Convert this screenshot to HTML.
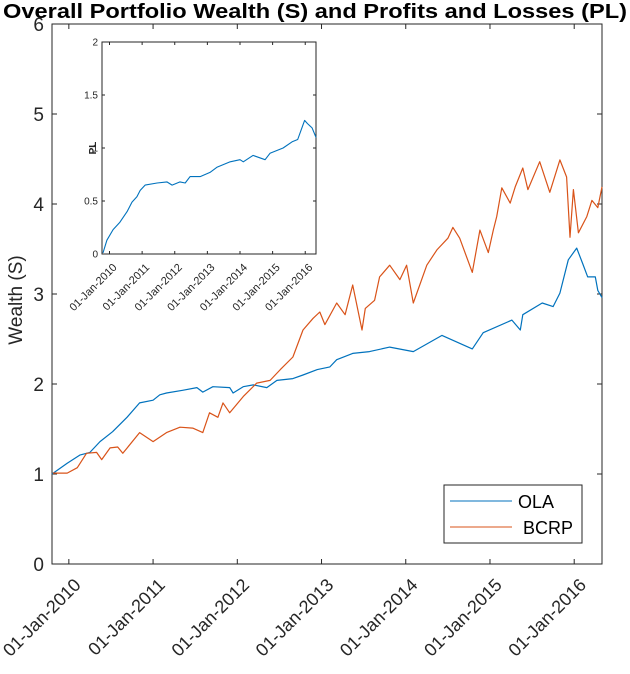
<!DOCTYPE html>
<html><head><meta charset="utf-8"><style>
html,body{margin:0;padding:0;background:#fff;}
svg{display:block;font-family:"Liberation Sans",Arial,sans-serif;}
</style></head><body>
<svg id="chart" width="630" height="674" viewBox="0 0 630 674">
<text x="315" y="18" text-anchor="middle" font-weight="bold" font-size="20.5" textLength="624" lengthAdjust="spacingAndGlyphs">Overall Portfolio Wealth (S) and Profits and Losses (PL)</text>
<text transform="translate(22,300) rotate(-90)" text-anchor="middle" font-size="19" fill="#262626">Wealth (S)</text>
<g id="main"></g>
<g id="inset"></g>
</svg>
<script>
// Main chart data (t = years since 01-Jan-2010)
const olaT = [-0.20,-0.02,0.13,0.25,0.37,0.52,0.69,0.84,1.00,1.08,1.16,1.35,1.52,1.59,1.71,1.91,1.95,2.07,2.19,2.35,2.47,2.66,2.78,2.95,3.10,3.18,3.37,3.57,3.81,4.09,4.43,4.79,4.92,5.26,5.36,5.39,5.62,5.75,5.83,5.93,6.03,6.10,6.16,6.25,6.28,6.33];
const olaV = [1.00,1.12,1.21,1.24,1.36,1.47,1.63,1.79,1.82,1.88,1.90,1.93,1.96,1.91,1.97,1.96,1.90,1.97,1.99,1.96,2.04,2.06,2.10,2.16,2.19,2.27,2.34,2.36,2.41,2.36,2.54,2.39,2.57,2.71,2.60,2.77,2.90,2.86,3.01,3.38,3.51,3.34,3.19,3.19,3.04,2.96];
const bcrpT = [-0.19,-0.02,0.10,0.21,0.33,0.39,0.49,0.58,0.64,0.84,1.00,1.16,1.32,1.47,1.59,1.67,1.77,1.83,1.91,2.07,2.23,2.39,2.51,2.66,2.78,2.90,2.98,3.04,3.18,3.28,3.37,3.48,3.52,3.63,3.69,3.81,3.93,4.01,4.09,4.25,4.37,4.50,4.56,4.64,4.79,4.88,4.98,5.04,5.08,5.14,5.24,5.30,5.39,5.45,5.59,5.71,5.83,5.91,5.95,5.99,6.05,6.15,6.21,6.28,6.33];
const bcrpV = [1.01,1.01,1.07,1.23,1.24,1.16,1.29,1.30,1.23,1.46,1.36,1.46,1.52,1.51,1.46,1.68,1.63,1.79,1.68,1.86,2.01,2.04,2.16,2.30,2.60,2.73,2.80,2.66,2.90,2.77,3.10,2.60,2.84,2.93,3.19,3.32,3.16,3.32,2.90,3.32,3.49,3.62,3.74,3.62,3.24,3.71,3.46,3.71,3.86,4.18,4.01,4.19,4.40,4.16,4.47,4.13,4.49,4.30,3.63,4.16,3.68,3.86,4.04,3.96,4.19];
const yTicks = [0,1,2,3,4,5,6];
const xTickLabels = ["01-Jan-2010","01-Jan-2011","01-Jan-2012","01-Jan-2013","01-Jan-2014","01-Jan-2015","01-Jan-2016"];
const xTickYears = [0,1,2,3,4,5,6];
// Inset PL data
const plT = [-0.20,-0.08,0.11,0.32,0.54,0.69,0.84,0.94,1.09,1.46,1.76,1.92,2.16,2.32,2.47,2.78,3.08,3.30,3.70,4.00,4.10,4.40,4.77,4.92,5.32,5.61,5.77,5.98,6.07,6.21,6.33];
const plV = [0.01,0.13,0.23,0.30,0.40,0.49,0.54,0.60,0.65,0.67,0.68,0.65,0.68,0.67,0.73,0.73,0.77,0.82,0.87,0.89,0.87,0.93,0.89,0.95,1.00,1.06,1.08,1.26,1.23,1.19,1.10];
const plYTicks = [0,0.5,1,1.5,2];
const plYLabels = ["0","0.5","1","1.5","2"];

const NS="http://www.w3.org/2000/svg";
function mk(parent,tag,attrs){const e=document.createElementNS(NS,tag);for(const k in attrs)e.setAttribute(k,attrs[k]);parent.appendChild(e);return e;}

const M={l:52,r:602,t:24,b:564,x0:-0.2,x1:6.33,y0:0,y1:6};
const mx=t=>M.l+(t-M.x0)/(M.x1-M.x0)*(M.r-M.l);
const my=v=>M.b-(v-M.y0)/(M.y1-M.y0)*(M.b-M.t);
const g=document.getElementById('main');
const box=mk(g,'rect',{x:M.l,y:M.t,width:M.r-M.l,height:M.b-M.t,fill:'#fff',stroke:'#262626','stroke-width':1});


yTicks.forEach(v=>{
  const y=my(v);
  mk(g,'line',{x1:M.l,x2:M.l+5,y1:y,y2:y,stroke:'#262626'});
  mk(g,'line',{x1:M.r,x2:M.r-5,y1:y,y2:y,stroke:'#262626'});
  const tx=mk(g,'text',{x:M.l-8,y:y+7,'text-anchor':'end','font-size':19,fill:'#262626'});
  tx.textContent=v;
  
  
});
xTickYears.forEach((yr,i)=>{
  const x=mx(yr);
  mk(g,'line',{x1:x,x2:x,y1:M.b,y2:M.b-5,stroke:'#262626'});
  mk(g,'line',{x1:x,x2:x,y1:M.t,y2:M.t+5,stroke:'#262626'});
  const tx=mk(g,'text',{transform:`translate(${x+13},${M.b+22}) rotate(-45)`,'text-anchor':'end','font-size':18,fill:'#262626'});
  tx.textContent=xTickLabels[i];
  
  
});
function line(parent,T,V,fx,fy,color,name,w){
  const p=mk(parent,'polyline',{points:T.map((t,i)=>fx(t).toFixed(1)+','+fy(V[i]).toFixed(1)).join(' '),fill:'none',stroke:color,'stroke-width':w,'stroke-linejoin':'round'});
  
  
}
line(g,olaT,olaV,mx,my,'#0072BD','ola-line',1.2);
line(g,bcrpT,bcrpV,mx,my,'#D95319','bcrp-line',1.2);

const lg=mk(g,'g',{});


mk(lg,'rect',{x:444,y:485,width:138,height:58,fill:'#fff',stroke:'#262626'});
mk(lg,'line',{x1:450,x2:512,y1:501,y2:501,stroke:'#0072BD'});
mk(lg,'line',{x1:450,x2:512,y1:527,y2:527,stroke:'#D95319'});
const l1=mk(lg,'text',{x:518,y:508,'font-size':18,fill:'#000'});l1.textContent='OLA';


const l2=mk(lg,'text',{x:523,y:534,'font-size':18,fill:'#000'});l2.textContent='BCRP';



const I={l:102,r:316,t:42,b:254,x0:-0.23,x1:6.33,y0:0,y1:2};
const ix=t=>I.l+(t-I.x0)/(I.x1-I.x0)*(I.r-I.l);
const iy=v=>I.b-(v-I.y0)/(I.y1-I.y0)*(I.b-I.t);
const h=document.getElementById('inset');


mk(h,'rect',{x:I.l,y:I.t,width:I.r-I.l,height:I.b-I.t,fill:'#fff',stroke:'#262626','stroke-width':1});
plYTicks.forEach((v,i)=>{
  const y=iy(v);
  mk(h,'line',{x1:I.l,x2:I.l+3,y1:y,y2:y,stroke:'#262626'});
  mk(h,'line',{x1:I.r,x2:I.r-3,y1:y,y2:y,stroke:'#262626'});
  const tx=mk(h,'text',{x:I.l-4,y:y+3.5,'text-anchor':'end','font-size':10,fill:'#262626'});
  tx.textContent=plYLabels[i];
  
  
});
xTickYears.forEach((yr,i)=>{
  const x=ix(yr);
  mk(h,'line',{x1:x,x2:x,y1:I.b,y2:I.b-3,stroke:'#262626'});
  mk(h,'line',{x1:x,x2:x,y1:I.t,y2:I.t+3,stroke:'#262626'});
  const tx=mk(h,'text',{transform:`translate(${x+8},${I.b+14}) rotate(-45)`,'text-anchor':'end','font-size':11,fill:'#262626'});
  tx.textContent=xTickLabels[i];
  
  
});
const pl=mk(h,'text',{transform:`translate(96,148) rotate(-90)`,'text-anchor':'middle','font-size':10,'font-weight':'bold',fill:'#262626'});
pl.textContent='PL';


line(h,plT,plV,ix,iy,'#0072BD','pl-line',1.1);
</script>
</body></html>
